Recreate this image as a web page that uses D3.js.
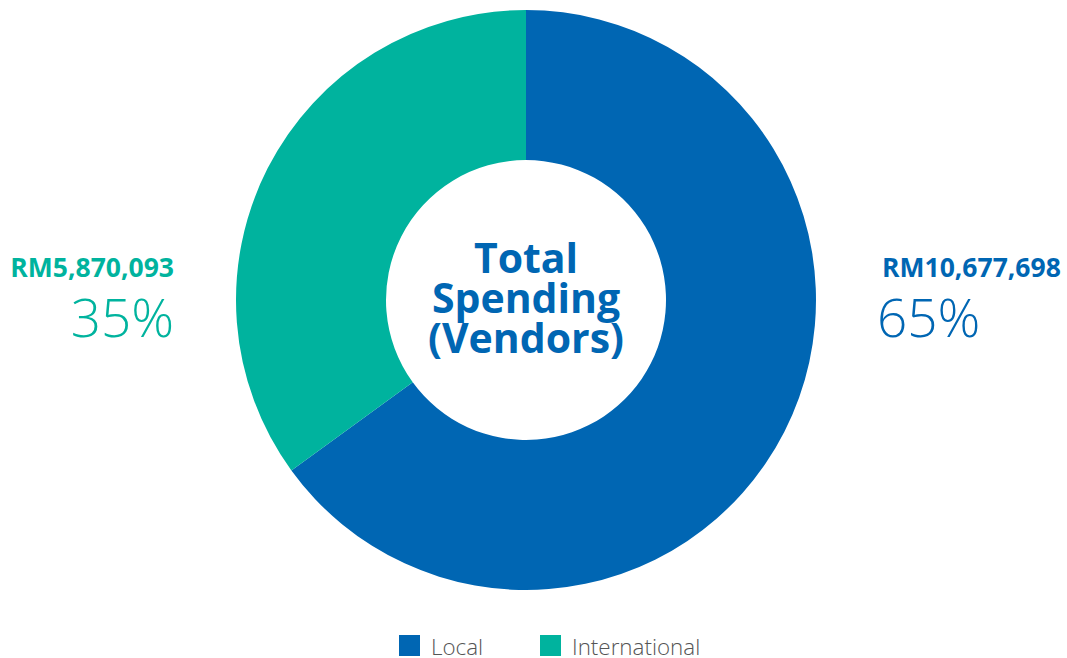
<!DOCTYPE html>
<html>
<head>
<meta charset="utf-8">
<script src="https://cdn.jsdelivr.net/npm/d3@7"></script>
<style>
  html, body { margin: 0; padding: 0; background: #fff; }
  svg { display: block; font-family: "Open Sans", sans-serif; }
</style>
</head>
<body>
<svg id="chart" width="1067" height="658"></svg>
<script>
// Vendor spending split
const categories = ["Local", "International"];
const amounts = ["RM10,677,698", "RM5,870,093"];
const shares = [65, 35];
const colors = ["#0066b3", "#00b39e"];
const centerLines = ["Total", "Spending", "(Vendors)"];

const svg = d3.select("#chart");
const cx = 526, cy = 300, outerR = 290, innerR = 140;

const data = categories.map((c, i) => ({ name: c, amount: amounts[i], share: shares[i], color: colors[i] }));

const pie = d3.pie().value(d => d.share).sort(null);
const arc = d3.arc().innerRadius(innerR).outerRadius(outerR);

const g = svg.append("g").attr("transform", `translate(${cx},${cy})`);
g.selectAll("path")
  .data(pie(data))
  .join("path")
  .attr("d", arc)
  .attr("fill", d => d.data.color);

// Centre title
const title = g.append("text")
  .attr("text-anchor", "middle")
  .attr("fill", colors[0])
  .attr("font-weight", 700)
  .attr("font-size", 41);
centerLines.forEach((t, i) => {
  title.append("tspan").attr("x", 0).attr("y", -27 + i * 40).text(t);
});

// Side labels: Local on the right, International on the left
const labelPos = [
  { x: 882, anchor: "start" },
  { x: 174, anchor: "end" }
];
data.forEach((d, i) => {
  const p = labelPos[i];
  svg.append("text")
    .attr("x", p.x).attr("y", 277)
    .attr("text-anchor", p.anchor)
    .attr("fill", d.color)
    .attr("font-weight", 700)
    .attr("font-size", 26.5)
    .text(d.amount);
  svg.append("text")
    .attr("x", p.anchor === "start" ? p.x - 5 : p.x)
    .attr("y", 337)
    .attr("text-anchor", p.anchor)
    .attr("fill", d.color)
    .attr("font-weight", 300)
    .attr("font-size", 53)
    .text(d.share + "%");
});

// Legend
const legendX = [399, 540];
const legend = svg.append("g");
data.forEach((d, i) => {
  legend.append("rect")
    .attr("x", legendX[i]).attr("y", 635)
    .attr("width", 21).attr("height", 21)
    .attr("fill", d.color);
  legend.append("text")
    .attr("x", legendX[i] + 32).attr("y", 655)
    .attr("fill", "#555")
    .attr("font-weight", 300)
    .attr("font-size", 22.4)
    .text(d.name);
});
</script>
</body>
</html>
